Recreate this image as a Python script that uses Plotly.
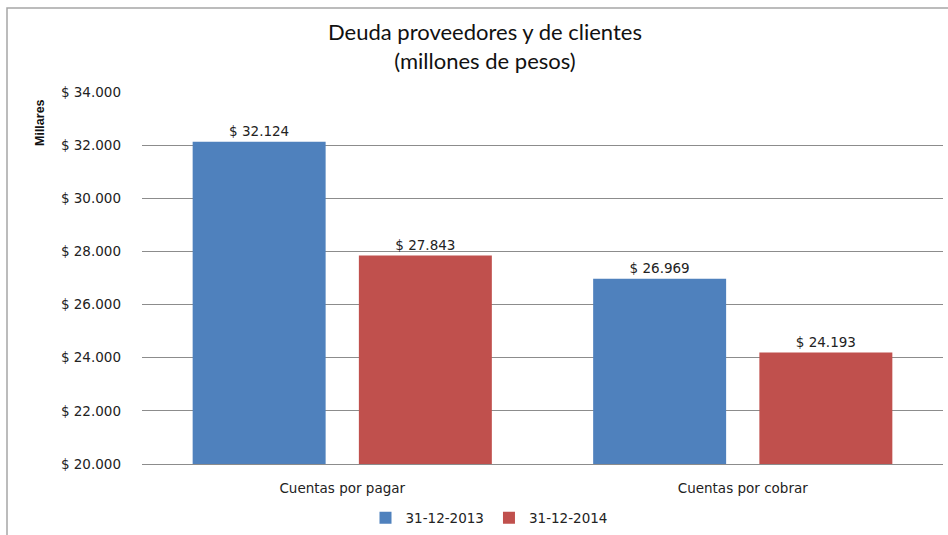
import plotly.graph_objects as go

categories = ["Cuentas por pagar", "Cuentas por cobrar"]
series_names = ["31-12-2013", "31-12-2014"]
values_2013 = [32124, 26969]
values_2014 = [27843, 24193]
colors = ["#4F81BD", "#C0504D"]

font_main = "DejaVu Sans, Verdana, sans-serif"

fig = go.Figure()
for name, vals, col in zip(series_names, [values_2013, values_2014], colors):
    fig.add_trace(go.Bar(
        x=categories, y=vals, name=name,
        marker=dict(color=col, line=dict(width=0)),
        texttemplate="$ %{y:,.0f}", textposition="outside",
        textfont=dict(size=13.5, color="#222222", family=font_main),
        cliponaxis=False,
    ))

L, T, W, H = 142, 92, 801, 372

fig.update_layout(
    width=948, height=535,
    paper_bgcolor="white", plot_bgcolor="white",
    margin=dict(l=L, r=5, t=T, b=71, autoexpand=False),
    separators=",.",
    barmode="group", bargap=0.17, bargroupgap=0.2,
    font=dict(family=font_main, size=13.5, color="#222222"),
    showlegend=True,
    legend=dict(orientation="h", xref="container", x=(489)/948, xanchor="center",
                yref="container", y=1-518/535, yanchor="middle",
                font=dict(size=13.5, family=font_main), itemwidth=30,
                traceorder="normal"),
    annotations=[
        dict(text="Deuda proveedores y de clientes<br>(millones de pesos)",
             xref="paper", yref="paper", x=(485-L)/W, y=1+(T-46)/H, xanchor="center", yanchor="middle",
             showarrow=False, font=dict(size=22, family="Lato, Liberation Sans, sans-serif", color="#111111")),
        dict(text="<b>Millares</b>", textangle=-90,
             xref="paper", yref="paper", x=-(L-40)/W, y=1-(123-T)/H, xanchor="center", yanchor="middle",
             showarrow=False, font=dict(size=12.5, family="Liberation Sans, Arial, sans-serif", color="#111111")),
    ],
    shapes=[
        dict(type="rect", xref="paper", yref="paper",
             x0=-(L-7)/W, x1=1.02, y0=-90/H, y1=1+(T-8)/H,
             line=dict(color="#A6A6A6", width=1.5), layer="below"),
    ],
)

fig.update_yaxes(
    range=[20000, 34000], dtick=2000, tickprefix="$ ", tickformat=",.0f",
    showgrid=True, gridcolor="#8C8C8C", gridwidth=1, zeroline=False,
    showline=False, ticklabelstandoff=20, tickfont=dict(size=13.5),
)
fig.update_xaxes(
    showline=True, linecolor="#8C8C8C", linewidth=1, ticks="",
    ticklabelstandoff=12, tickfont=dict(size=13.5), showgrid=False,
)

fig.write_html("out.html", config={"displayModeBar": False},
               post_script="document.body.style.margin='0';document.body.style.padding='0';")
